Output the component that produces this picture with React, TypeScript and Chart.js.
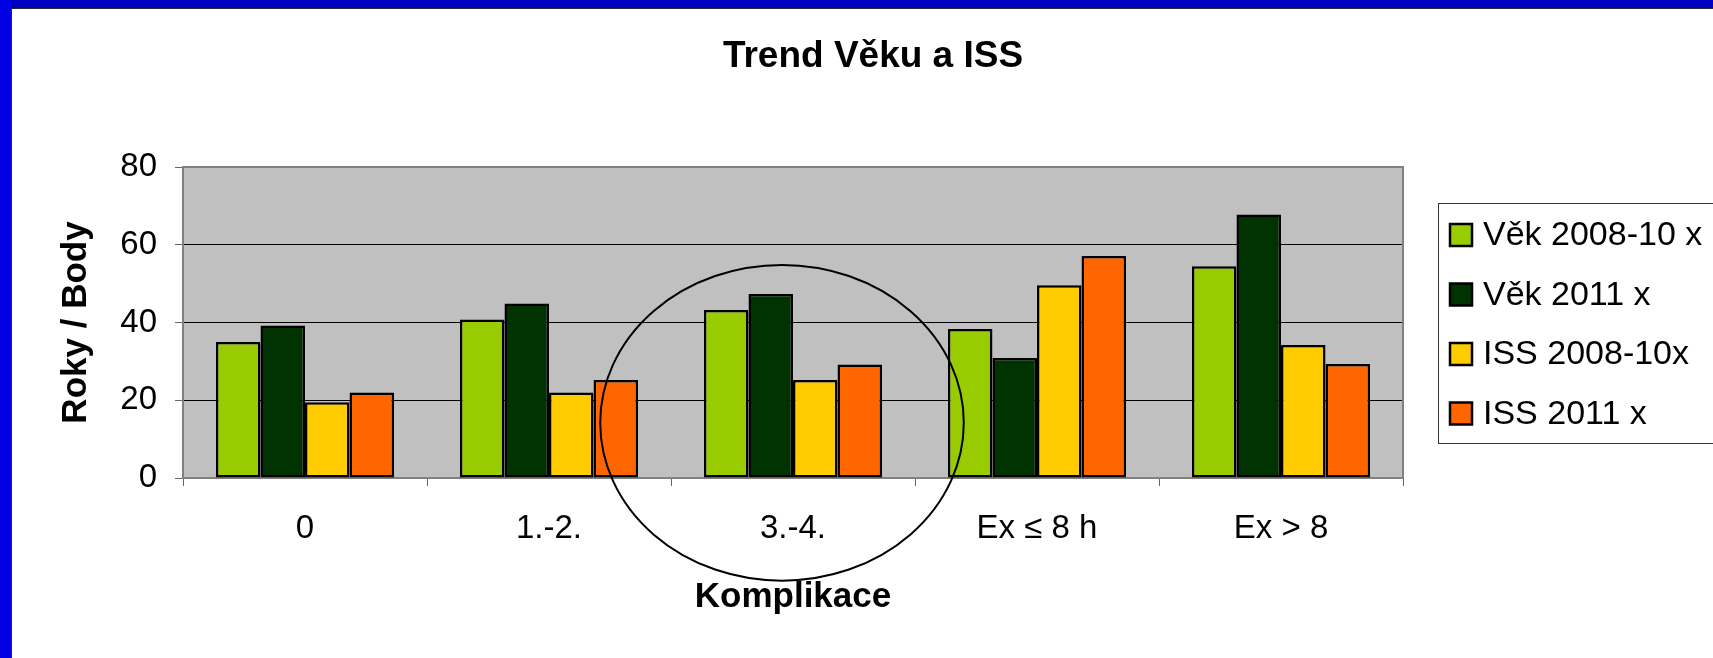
import React, { useEffect, useRef } from 'react';
import { Chart, registerables } from 'chart.js';

Chart.register(...registerables);

const FONT = '"Liberation Sans", Arial, Helvetica, sans-serif';

const chartTitle = 'Trend Věku a ISS';
const yAxisTitle = 'Roky / Body';
const xAxisTitle = 'Komplikace';

const categories = ['0', '1.-2.', '3.-4.', 'Ex ≤ 8 h', 'Ex > 8'];
const seriesLabels = ['Věk 2008-10 x', 'Věk 2011 x', 'ISS 2008-10x', 'ISS 2011 x'];
const vek2008_10 = [35.0, 40.8, 43.2, 38.3, 54.5];
const vek2011 = [39.2, 44.9, 47.3, 30.9, 67.8];
const iss2008_10 = [19.5, 22.0, 25.2, 49.6, 34.2];
const iss2011 = [22.0, 25.2, 29.2, 57.1, 29.3];
const seriesColors = ['#99CC00', '#003300', '#FFCC00', '#FF6600'];
const yMin = 0;
const yMax = 80;
const yStep = 20;

// highlighted group (ellipse annotation)
const highlightIndex = 2;

const decorPlugin = {
  id: 'decor',
  beforeDraw(chart: any) {
    const { ctx, chartArea: a, width, height } = chart;
    ctx.save();
    ctx.fillStyle = '#ffffff';
    ctx.fillRect(0, 0, width, height);
    // blue frame
    ctx.fillStyle = '#0000C4';
    ctx.fillRect(0, 0, width, 8);
    ctx.fillStyle = '#0000E2';
    ctx.fillRect(0, 0, 11, height);
    ctx.fillStyle = '#2a2a2a';
    ctx.fillRect(11, 8, 1, height - 8);
    ctx.fillRect(11, 8, width - 11, 1);
    // plot background
    ctx.fillStyle = '#C0C0C0';
    ctx.fillRect(a.left, a.top, a.right - a.left, a.bottom - a.top);
    // title
    ctx.fillStyle = '#000';
    ctx.font = `bold 37px ${FONT}`;
    ctx.textAlign = 'center';
    ctx.textBaseline = 'alphabetic';
    ctx.fillText(chartTitle, 873, 67);
    ctx.restore();
  },
  beforeDatasetsDraw(chart: any) {
    const { ctx, chartArea: a } = chart;
    ctx.save();
    ctx.strokeStyle = '#808080';
    ctx.lineWidth = 2;
    ctx.strokeRect(a.left, a.top, a.right - a.left, a.bottom - a.top);
    ctx.restore();
  },
  afterDatasetsDraw(chart: any) {
    const { ctx } = chart;
    const xs = chart.scales.x;
    const ys = chart.scales.y;
    const catW = (xs.right - xs.left) / categories.length;
    const cx = xs.getPixelForValue(highlightIndex) - 0.045 * catW;
    const cy = ys.getPixelForValue(14.2);
    const rx = 0.745 * catW;
    const ry = ys.getPixelForValue(0) - ys.getPixelForValue(40.6);
    ctx.save();
    ctx.strokeStyle = '#000';
    ctx.lineWidth = 2;
    ctx.beginPath();
    ctx.ellipse(cx, cy, rx, ry, 0, 0, Math.PI * 2);
    ctx.stroke();
    ctx.restore();
  },
  afterDraw(chart: any) {
    const { ctx, chartArea: a, width } = chart;
    const left = a.right + 35;
    const top = 203;
    const bottom = 443;
    ctx.save();
    ctx.strokeStyle = '#333';
    ctx.lineWidth = 1;
    ctx.strokeRect(left + 0.5, top + 0.5, width + 10 - left, bottom - top);
    const ds = chart.data.datasets;
    ctx.font = `34px ${FONT}`;
    ctx.textAlign = 'left';
    ctx.textBaseline = 'middle';
    for (let i = 0; i < ds.length; i++) {
      const yc = 235 + i * 59.5;
      ctx.fillStyle = ds[i].backgroundColor;
      ctx.fillRect(left + 12, yc - 11, 22, 22);
      ctx.strokeStyle = '#000';
      ctx.lineWidth = 2.5;
      ctx.strokeRect(left + 12, yc - 11, 22, 22);
      ctx.fillStyle = '#000';
      ctx.fillText(ds[i].label, left + 45, yc + 1);
    }
    ctx.restore();
  },
};

export default function App() {
  const ref = useRef<HTMLCanvasElement | null>(null);

  useEffect(() => {
    document.body.style.margin = '0';
    const canvas = ref.current;
    if (!canvas) return;
    const seriesValues = [vek2008_10, vek2011, iss2008_10, iss2011];
    const chart = new Chart(canvas, {
      type: 'bar',
      data: {
        labels: categories,
        datasets: seriesValues.map((vals, i) => ({
          label: seriesLabels[i],
          data: vals,
          backgroundColor: seriesColors[i],
          borderColor: '#000000',
          borderWidth: 2.5,
          borderSkipped: false,
          categoryPercentage: 0.73,
          barPercentage: 1.0,
        })),
      },
      options: {
        responsive: false,
        animation: false,
        devicePixelRatio: 1,
        layout: { padding: { top: 167, right: 310, bottom: 0, left: 0 } },
        plugins: {
          legend: { display: false },
          title: { display: false },
          tooltip: { enabled: false },
        },
        scales: {
          x: {
            grid: {
              offset: true,
              drawOnChartArea: false,
              drawTicks: true,
              tickLength: 8,
              tickColor: '#666666',
            },
            border: { display: false },
            ticks: {
              color: '#000',
              font: { family: FONT, size: 33 },
              padding: 23,
              maxRotation: 0,
              autoSkip: false,
            },
            title: {
              display: true,
              text: xAxisTitle,
              color: '#000',
              font: { family: FONT, size: 35, weight: 'bold' },
              padding: { top: 0, bottom: 40 },
            },
            afterFit(scale: any) {
              scale.height = 180;
            },
          },
          y: {
            min: yMin,
            max: yMax,
            ticks: {
              stepSize: yStep,
              color: '#000',
              font: { family: FONT, size: 33 },
              padding: 18,
            },
            grid: {
              color: (c: any) =>
                c.tick && (c.tick.value === yMin || c.tick.value === yMax) ? 'rgba(0,0,0,0)' : '#000000',
              lineWidth: 1,
              drawTicks: true,
              tickLength: 8,
              tickColor: '#666666',
            },
            border: { display: false },
            title: {
              display: true,
              text: yAxisTitle,
              color: '#000',
              font: { family: FONT, size: 35, weight: 'bold' },
              padding: { top: 55, bottom: 0 },
            },
            afterFit(scale: any) {
              scale.width = 183;
            },
          },
        },
      },
      plugins: [decorPlugin],
    });
    return () => chart.destroy();
  }, []);

  return (
    <canvas
      ref={ref}
      width={1713}
      height={658}
      style={{ display: 'block', width: '1713px', height: '658px' }}
    />
  );
}
